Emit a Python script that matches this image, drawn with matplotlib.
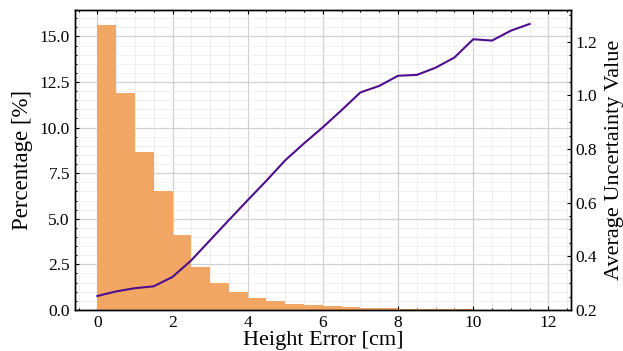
import matplotlib
matplotlib.use("Agg")
import matplotlib.pyplot as plt
import numpy as np
from matplotlib.ticker import MultipleLocator

# histogram bins (left edges, width 0.5 cm)
bin_edges = np.arange(0, 12.5, 0.5)
percentages = [15.64, 11.89, 8.66, 6.52, 4.10, 2.35, 1.47, 0.97, 0.64, 0.48,
               0.32, 0.26, 0.20, 0.15, 0.13, 0.09, 0.07, 0.05, 0.04, 0.03,
               0.0, 0.0, 0.0, 0.0]
avg_uncertainty = [0.252, 0.269, 0.281, 0.288, 0.323, 0.385, 0.460, 0.535,
                   0.609, 0.682, 0.758, 0.821, 0.881, 0.945, 1.011, 1.035,
                   1.073, 1.076, 1.103, 1.141, 1.209, 1.204, 1.241, 1.266]

plt.rcParams["font.family"] = ["Liberation Serif", "DejaVu Serif"]
plt.rcParams["mathtext.fontset"] = "stix"

fig = plt.figure(figsize=(6.23, 3.51), dpi=100)
ax = fig.add_axes([0.120, 0.117, 0.7965, 0.8545])
ax2 = ax.twinx()

ax.set_axisbelow(True)
ax.bar(bin_edges[:-1], percentages, width=0.5, align="edge", color="#f2a663", linewidth=0)
ax2.plot(bin_edges[:-1], avg_uncertainty, color="#4e0d8c", linewidth=1.5)

ax.set_xlim(-0.6, 12.6)
ax.set_ylim(0, 16.45)
ax2.set_ylim(0.2, 1.318)

ax.xaxis.set_major_locator(MultipleLocator(2))
ax.xaxis.set_minor_locator(MultipleLocator(0.5))
ax.yaxis.set_major_locator(MultipleLocator(2.5))
ax.yaxis.set_minor_locator(MultipleLocator(0.5))
ax2.yaxis.set_major_locator(MultipleLocator(0.2))
ax2.yaxis.set_minor_locator(MultipleLocator(0.05))

ax.grid(which="major", color="#d0d0d0", linewidth=0.9)
ax.grid(which="minor", color="#ececec", linewidth=0.6)

for a in (ax, ax2):
    a.tick_params(which="both", direction="in", labelsize=12.5, width=0.8)
    a.tick_params(which="major", length=3)
    a.tick_params(which="minor", length=1.5)
    for s in a.spines.values():
        s.set_linewidth(1.0)
ax.tick_params(which="both", top=True, right=False)
ax2.tick_params(which="both", left=False, right=True, top=False)

ax.set_xlabel("Height Error [cm]", fontsize=16, labelpad=0)
ax.set_ylabel("Percentage [%]", fontsize=16.5, labelpad=5)
ax2.set_ylabel("Average Uncertainty Value", fontsize=16, labelpad=5)

fig.savefig("out.png", dpi=100)
